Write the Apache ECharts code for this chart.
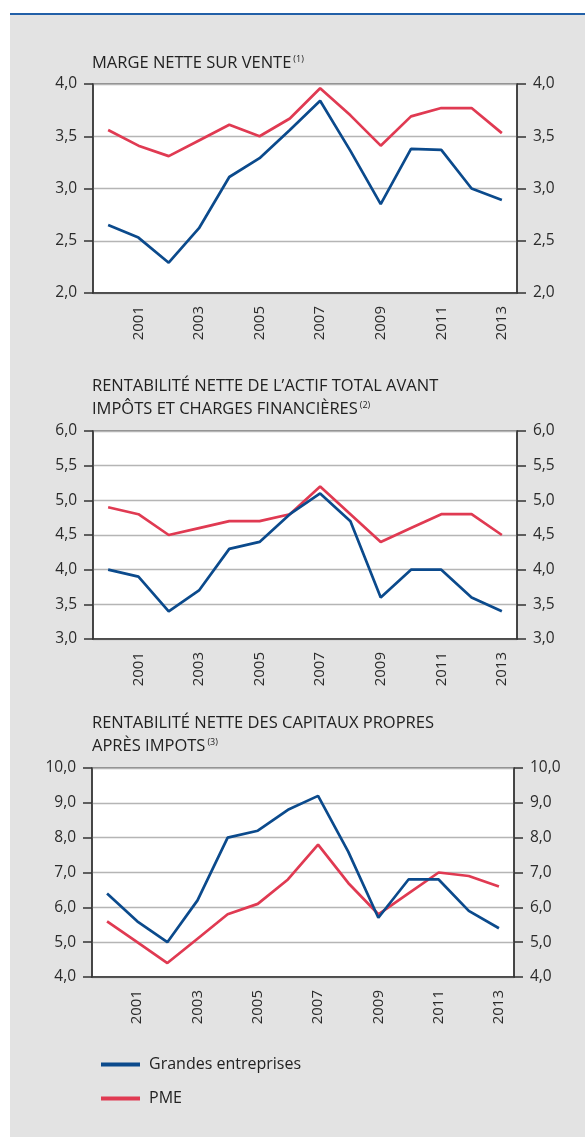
<!DOCTYPE html>
<html>
<head>
<meta charset="utf-8">
<script src="https://cdn.jsdelivr.net/npm/echarts@6/dist/echarts.min.js"></script>
<style>
  html, body { margin: 0; padding: 0; background: #fff; }
  #chart { width: 585px; height: 1137px; }
</style>
</head>
<body>
<div id="chart"></div>
<script>
// data
var years = ['2000', '2001', '2002', '2003', '2004', '2005', '2006',
             '2007', '2008', '2009', '2010', '2011', '2012', '2013'];

var margeGrandes = [2.65, 2.53, 2.29, 2.62, 3.11, 3.29, 3.56, 3.84, 3.36, 2.85, 3.38, 3.37, 3.00, 2.89];
var margePme     = [3.56, 3.41, 3.31, 3.46, 3.61, 3.50, 3.67, 3.96, 3.70, 3.41, 3.69, 3.77, 3.77, 3.53];

var actifGrandes = [4.0, 3.9, 3.4, 3.7, 4.3, 4.4, 4.8, 5.1, 4.7, 3.6, 4.0, 4.0, 3.6, 3.4];
var actifPme     = [4.9, 4.8, 4.5, 4.6, 4.7, 4.7, 4.8, 5.2, 4.8, 4.4, 4.6, 4.8, 4.8, 4.5];

var capitauxGrandes = [6.4, 5.6, 5.0, 6.2, 8.0, 8.2, 8.8, 9.2, 7.6, 5.7, 6.8, 6.8, 5.9, 5.4];
var capitauxPme     = [5.6, 5.0, 4.4, 5.1, 5.8, 6.1, 6.8, 7.8, 6.7, 5.8, 6.4, 7.0, 6.9, 6.6];

var titles = [
  '{a|MARGE NETTE SUR VENTE}{s|(1)}',
  '{a|RENTABILITÉ NETTE DE L’ACTIF TOTAL AVANT}\n{a|IMPÔTS ET CHARGES FINANCIÈRES}{s|(2)}',
  '{a|RENTABILITÉ NETTE DES CAPITAUX PROPRES}\n{a|APRÈS IMPOTS}{s|(3)}'
];

var BLUE = '#0b4a8c';
var RED = '#e03a52';
var INK = '#2b2b2b';
var FONT = 'Open Sans';

// layout of the three panels
var panels = [
  { top: 84, height: 209, left: 93, right: 68, min: 2, max: 4, interval: 0.5, titleTop: 52, g: margeGrandes, p: margePme },
  { top: 431, height: 208, left: 93, right: 68, min: 3, max: 6, interval: 0.5, titleTop: 375, g: actifGrandes, p: actifPme },
  { top: 768, height: 209, left: 92, right: 71, min: 4, max: 10, interval: 1, titleTop: 712, g: capitauxGrandes, p: capitauxPme }
];

var chart = echarts.init(document.getElementById('chart'), null, { renderer: 'canvas' });

var grid = [], xAxis = [], yAxis = [], series = [], title = [];

panels.forEach(function (pn, i) {
  grid.push({
    left: pn.left, right: pn.right, top: pn.top, height: pn.height,
    show: true, backgroundColor: '#fff', borderColor: '#333', borderWidth: 1.2
  });

  xAxis.push({
    type: 'category', gridIndex: i, data: years, boundaryGap: true,
    axisLine: { lineStyle: { color: '#333', width: 1.5 } },
    axisTick: { inside: true, length: 10, interval: 0, lineStyle: { color: '#333', width: 1.5 } },
    axisLabel: {
      rotate: 90, margin: 13, color: INK, fontFamily: FONT, fontSize: 15,
      interval: function (idx) { return idx % 2 === 1; }
    },
    splitLine: { show: false }
  });

  var fmt = function (v) { return v.toFixed(1).replace('.', ','); };
  [false, true].forEach(function (isRight) {
    yAxis.push({
      type: 'value', gridIndex: i, position: isRight ? 'right' : 'left',
      min: pn.min, max: pn.max, interval: pn.interval,
      axisLine: { show: true, lineStyle: { color: '#333', width: 1.5 } },
      axisTick: { show: true, length: 9, lineStyle: { color: '#333', width: 1.5 } },
      axisLabel: { margin: 16, color: INK, fontFamily: FONT, fontSize: 15.5, formatter: fmt },
      splitLine: { show: !isRight, lineStyle: { color: '#b5b5b5', width: 1.3 } }
    });
  });

  series.push({
    name: 'Grandes entreprises', type: 'line', xAxisIndex: i, yAxisIndex: i * 2,
    data: pn.g, color: BLUE, symbol: 'none', lineStyle: { width: 2.7, color: BLUE }, z: 3
  });
  series.push({
    name: 'PME', type: 'line', xAxisIndex: i, yAxisIndex: i * 2,
    data: pn.p, color: RED, symbol: 'none', lineStyle: { width: 2.7, color: RED }, z: 2
  });

  title.push({
    text: titles[i], left: 92, top: pn.titleTop, padding: 0,
    textStyle: {
      fontWeight: 'normal',
      rich: {
        a: { fontFamily: FONT, fontSize: 16.5, fontWeight: 'normal', color: '#222', lineHeight: 23 },
        s: { fontFamily: FONT, fontSize: 9, fontWeight: 'normal', color: '#222', lineHeight: 23, padding: [0, 0, 9, 2] }
      }
    }
  });
});

chart.setOption({
  backgroundColor: '#fff',
  animation: false,
  title: title,
  graphic: [
    { type: 'rect', z: -10, shape: { x: 10, y: 14, width: 575, height: 1123 }, style: { fill: '#e3e3e3' } },
    { type: 'line', z: -5, shape: { x1: 10, y1: 14, x2: 585, y2: 14 }, style: { stroke: '#2260a8', lineWidth: 2 } }
  ],
  legend: {
    data: ['Grandes entreprises', 'PME'],
    orient: 'vertical', left: 96, top: 1049,
    icon: 'rect', itemWidth: 39, itemHeight: 4, itemGap: 13,
    textStyle: { fontFamily: FONT, fontSize: 16, color: '#222', lineHeight: 21, padding: [0, 0, 0, 4] }
  },
  grid: grid,
  xAxis: xAxis,
  yAxis: yAxis,
  series: series
});
</script>
</body>
</html>
